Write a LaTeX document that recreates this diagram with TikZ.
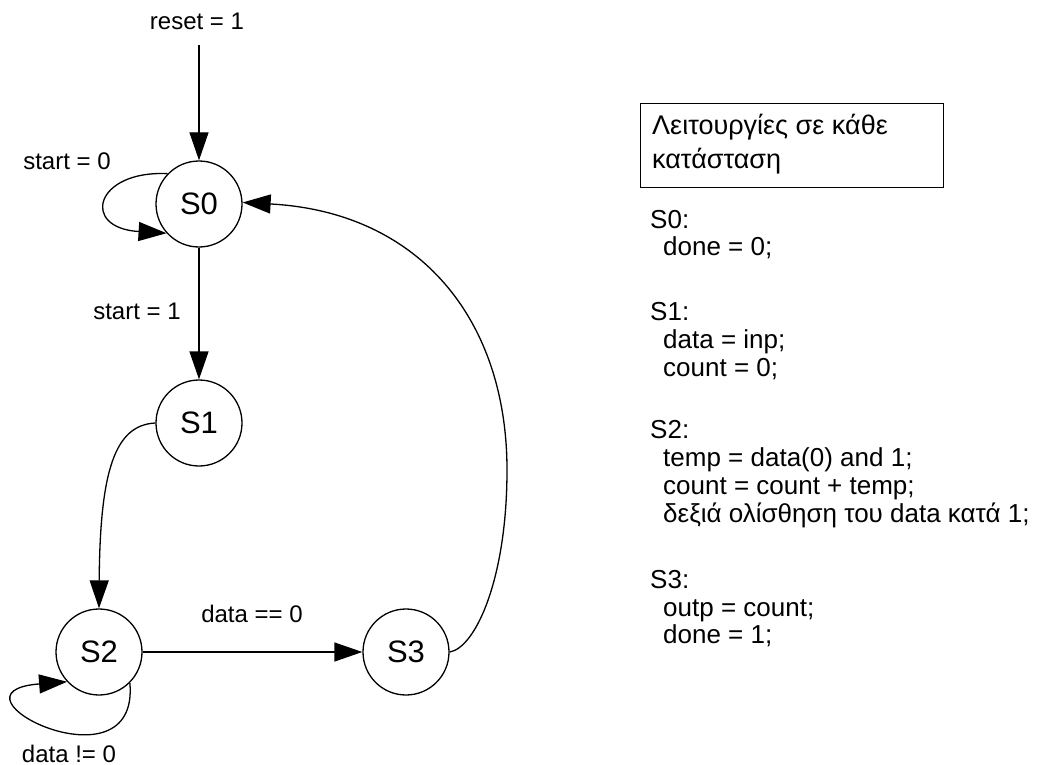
\documentclass[tikz,border=0pt]{standalone}
\usepackage{fontspec}
\setmainfont{Liberation Sans}
\usetikzlibrary{arrows.meta}
\begin{document}
\begin{tikzpicture}[x=1pt,y=-1pt,
  state/.style={circle, draw, line width=1.3pt, minimum size=86pt, inner sep=0pt, font=\fontsize{31}{34}\selectfont},
  lbl/.style={font=\fontsize{24}{27}\selectfont, anchor=base, inner sep=0pt},
  txt/.style={font=\fontsize{26}{28}\selectfont, anchor=base west, inner sep=0pt},
  boxtxt/.style={font=\fontsize{27}{30}\selectfont, anchor=base west, inner sep=0pt},
  conn/.style={line width=1.3pt, -{Triangle[length=28pt,width=19pt]}}]
\useasboundingbox (0,0) rectangle (1039,765);
% states
\node[state] (S0) at (199,204) {S0};
\node[state] (S1) at (199,423) {S1};
\node[state] (S2) at (99,652) {S2};
\node[state] (S3) at (406,652) {S3};
% labels
\node[lbl] (lreset) at (197,30) {reset = 1};
\node[lbl] (lstart0) at (67,170) {start = 0};
\node[lbl] (lstart1) at (137,319) {start = 1};
\node[lbl] (ldata0) at (252,622) {data == 0};
\node[lbl] (ldatan) at (69,762) {data != 0};
% connectors
\coordinate (rst) at (199,45);
\draw[conn] (rst) -- (S0);
\draw[conn] (S0.136) .. controls (95,170) and (80,228) .. (S0.222);
\draw[conn] (S0) -- (S1);
\draw[conn] (S1.west) .. controls (115,425) and (100,470) .. (S2.north);
\draw[conn] (S2.315) .. controls (140,795) and (-65,692) .. (S2.223);
\draw[conn] (S2) -- (S3);
\draw[conn] (S3.east) .. controls (475,648) and (507,580) .. (507,470) .. controls (507,320) and (420,212) .. (S0.2);
% legend box
\node[draw, line width=1.3pt, anchor=north west, minimum width=303pt, minimum height=84pt, inner sep=0pt] (box) at (640,103) {};
\node[boxtxt] (bt1) at (652,135) {Λειτουργίες σε κάθε};
\node[boxtxt] (bt2) at (652,168) {κατάσταση};
% operations text
\node[txt] (a1) at (650,228) {S0:};
\node[txt] (a2) at (663,255) {done = 0;};
\node[txt] (b1) at (650,320) {S1:};
\node[txt] (b2) at (663,348) {data = inp;};
\node[txt] (b3) at (663,376) {count = 0;};
\node[txt] (c1) at (650,438) {S2:};
\node[txt] (c2) at (663,466) {temp = data(0) and 1;};
\node[txt] (c3) at (663,494) {count = count + temp;};
\node[txt] (c4) at (663,522) {δεξιά ολίσθηση του data κατά 1;};
\node[txt] (d1) at (650,588) {S3:};
\node[txt] (d2) at (663,616) {outp = count;};
\node[txt] (d3) at (663,643) {done = 1;};
\end{tikzpicture}
\end{document}
